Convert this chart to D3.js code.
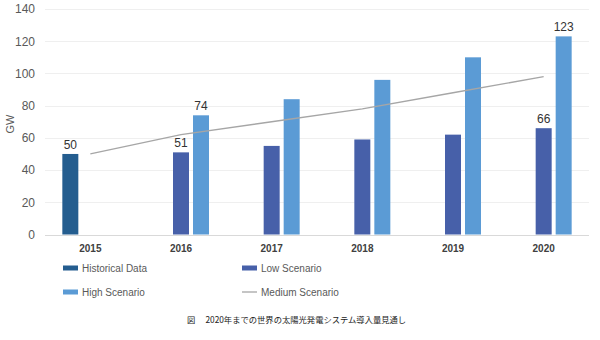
<!DOCTYPE html>
<html><head><meta charset="utf-8">
<script src="https://cdn.jsdelivr.net/npm/d3@7"></script>
<style>body{margin:0;background:#fff}svg{display:block}</style>
</head><body>
<svg id="c" width="600" height="340"></svg>
<script>
const years = ["2015","2016","2017","2018","2019","2020"];
const historical = [50, null, null, null, null, null];
const low = [null, 51, 55, 59, 62, 66];
const high = [null, 74, 84, 96, 110, 123];
const medium = [50, 62, 70, 78, 88, 98];
const yTicks = [0,20,40,60,80,100,120,140];
const labelledHistorical = ["2015"];
const labelledLow = ["2016","2020"];
const labelledHigh = ["2016","2020"];
const seriesNames = ["Historical Data","Low Scenario","High Scenario","Medium Scenario"];
const caption = "図\u3000 2020年までの世界の太陽光発電システム導入量見通し";

const colors = {hist:"#245d8f", low:"#4760a9", high:"#5b9bd5", med:"#a6a6a6"};
const svg = d3.select("#c");
const x0 = d3.scaleBand().domain(years).range([45, 589]).padding(0);
const x1 = d3.scaleBand().domain(["hist","low","high"]).range([-28, 28]).paddingInner(0.2);
const y = d3.scaleLinear().domain([0,140]).range([234.5, 9]);
const cx = d => x0(d) + x0.bandwidth()/2;

// gridlines
svg.append("g").selectAll("line").data(yTicks.filter(t=>t>0)).join("line")
  .attr("x1",45).attr("x2",589).attr("y1",d=>Math.round(y(d))+0.5).attr("y2",d=>Math.round(y(d))+0.5)
  .attr("stroke","#efefef").attr("stroke-width",1);

// y axis
const ya = svg.append("g").attr("transform","translate(45,0)")
  .call(d3.axisLeft(y).tickValues(yTicks).tickSize(0).tickPadding(10));
ya.select(".domain").remove();
ya.selectAll("text").attr("font-family","Liberation Sans, Arial, sans-serif").attr("font-size",12).attr("fill","#595959");

svg.append("text").attr("transform","translate(14,124) rotate(-90)").attr("text-anchor","middle")
  .attr("font-family","Liberation Sans, Arial, sans-serif").attr("font-size",11).attr("fill","#595959").text("GW");

// baseline
svg.append("line").attr("x1",45).attr("x2",589).attr("y1",Math.round(y(0))+0.5).attr("y2",Math.round(y(0))+0.5)
  .attr("stroke","#d9d9d9");

const series = [
  {key:"hist", vals:historical, labelled:labelledHistorical},
  {key:"low", vals:low, labelled:labelledLow},
  {key:"high", vals:high, labelled:labelledHigh}
];
series.forEach(s => {
  const data = years.map((yr,i)=>({yr, v:s.vals[i]})).filter(d=>d.v!=null);
  svg.append("g").selectAll("rect").data(data).join("rect")
    .attr("x", d=>cx(d.yr)+x1(s.key)).attr("width", x1.bandwidth())
    .attr("y", d=>y(d.v)).attr("height", d=>y(0)-y(d.v)).attr("fill", colors[s.key]);
  svg.append("g").selectAll("text").data(data.filter(d=>s.labelled.includes(d.yr))).join("text")
    .attr("x", d=>cx(d.yr)+x1(s.key)+x1.bandwidth()/2).attr("y", d=>y(d.v)-5)
    .attr("text-anchor","middle").attr("font-family","Liberation Sans, Arial, sans-serif")
    .attr("font-size",12).attr("fill","#333").text(d=>d.v);
});

// medium line
const line = d3.line().x((d,i)=>cx(years[i])).y(d=>y(d));
svg.append("path").datum(medium).attr("d",line).attr("fill","none").attr("stroke",colors.med).attr("stroke-width",1.3);

// x axis labels
const xa = svg.append("g").attr("transform",`translate(0,${y(0)})`).call(d3.axisBottom(x0).tickSize(0).tickPadding(10));
xa.select(".domain").remove();
xa.selectAll("text").attr("font-family","Liberation Sans, Arial, sans-serif").attr("font-size",10).attr("font-weight","bold").attr("fill","#404040");

// legend
const legItems = [
  {name:seriesNames[0], type:"rect", color:colors.hist, x:63, y:268},
  {name:seriesNames[1], type:"rect", color:colors.low, x:242, y:268},
  {name:seriesNames[2], type:"rect", color:colors.high, x:63, y:292},
  {name:seriesNames[3], type:"line", color:colors.med, x:242, y:292}
];
const lg = svg.append("g").selectAll("g").data(legItems).join("g").attr("transform",d=>`translate(${d.x},${d.y})`);
lg.filter(d=>d.type==="rect").append("rect").attr("x",0).attr("y",-2.5).attr("width",15).attr("height",5).attr("fill",d=>d.color);
lg.filter(d=>d.type==="line").append("line").attr("x1",0).attr("x2",15).attr("y1",0).attr("y2",0).attr("stroke",d=>d.color).attr("stroke-width",1.3);
lg.append("text").attr("x",19).attr("y",3.5).attr("font-family","Liberation Sans, Arial, sans-serif").attr("font-size",10).attr("fill","#595959").text(d=>d.name);

// caption
svg.append("text").attr("x",187).attr("y",323).attr("font-family","Noto Sans CJK JP, sans-serif").attr("font-size",8.3).attr("fill","#222").text(caption);
</script>
</body></html>
